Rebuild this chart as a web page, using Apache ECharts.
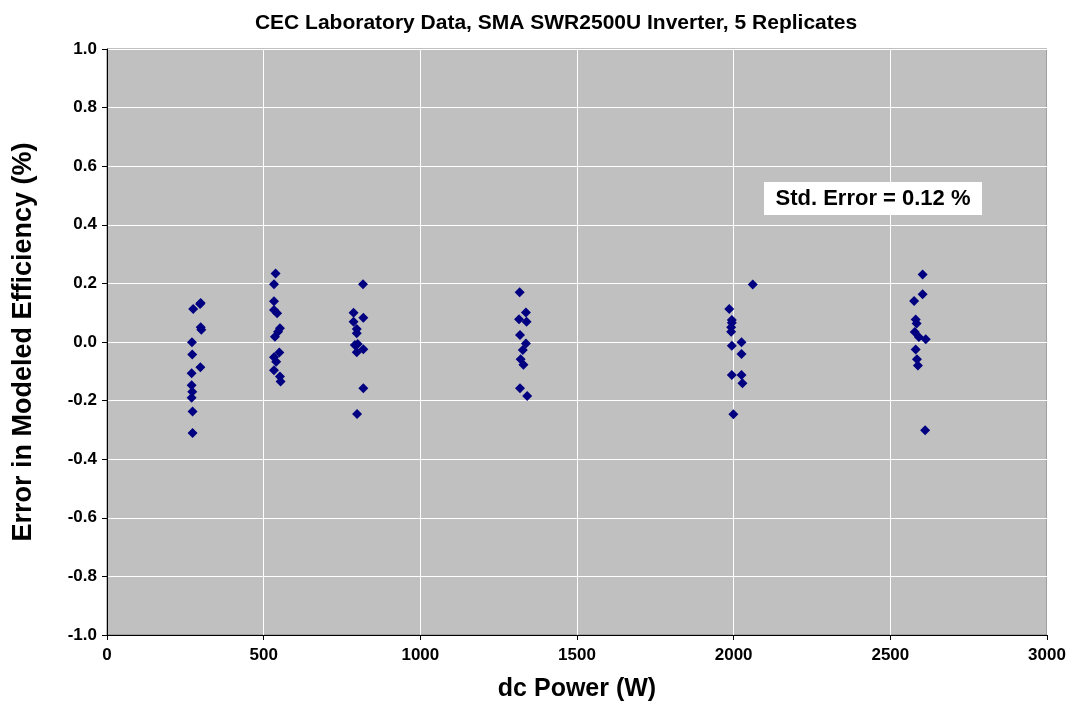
<!DOCTYPE html>
<html>
<head>
<meta charset="utf-8">
<script src="https://cdn.jsdelivr.net/npm/echarts@6/dist/echarts.min.js"></script>
<style>
  html, body { margin: 0; padding: 0; background: #fff; }
  #chart { width: 1078px; height: 728px; }
</style>
</head>
<body>
<div id="chart"></div>
<script>
// dc power (W) and model error (%), cluster by cluster
const powerW = [
  275, 297, 299, 299, 301, 271, 272, 298, 270, 270, 272, 270, 273, 273,
  538, 533, 533, 533, 543, 552, 546, 536, 550, 533, 540, 533, 552, 554,
  817, 787, 818, 787, 797, 797, 791, 800, 818, 797, 818, 798,
  1317, 1337, 1315, 1339, 1318, 1337, 1327, 1320, 1329, 1318, 1341,
  2061, 1986, 1994, 1994, 1992, 1992, 1994, 2025, 2025, 1994, 2025, 2028, 1999,
  2603, 2603, 2576, 2581, 2584, 2578, 2591, 2613, 2581, 2585, 2588, 2611
];
const errorPct = [
  0.113, 0.130, 0.133, 0.050, 0.042, -0.001, -0.043, -0.086, -0.107, -0.148, -0.170, -0.190, -0.237, -0.311,
  0.234, 0.197, 0.139, 0.109, 0.098, 0.047, 0.035, 0.018, -0.036, -0.052, -0.067, -0.096, -0.118, -0.135,
  0.197, 0.100, 0.083, 0.069, 0.044, 0.030, -0.010, -0.007, -0.025, -0.035, -0.158, -0.246,
  0.170, 0.101, 0.078, 0.069, 0.024, -0.005, -0.027, -0.059, -0.078, -0.158, -0.184,
  0.196, 0.113, 0.075, 0.066, 0.050, 0.035, -0.013, -0.001, -0.041, -0.113, -0.113, -0.141, -0.247,
  0.230, 0.163, 0.140, 0.077, 0.063, 0.034, 0.017, 0.009, -0.026, -0.059, -0.080, -0.301
];
const stdErrorLabel = 'Std. Error = 0.12 %';

const points = powerW.map((p, i) => [p, errorPct[i]]);

const chart = echarts.init(document.getElementById('chart'));
const font = 'Arial, "Liberation Sans", sans-serif';

chart.setOption({
  animation: false,
  textStyle: { fontFamily: font },
  title: {
    text: 'CEC Laboratory Data, SMA SWR2500U Inverter, 5 Replicates',
    left: 551,
    textAlign: 'center',
    top: 8,
    textStyle: { fontSize: 21, fontWeight: 'bold', color: '#000', fontFamily: font }
  },
  grid: {
    left: 107, right: 31, top: 49, bottom: 93,
    show: true,
    backgroundColor: '#c0c0c0',
    borderColor: '#808080',
    borderWidth: 1
  },
  xAxis: {
    type: 'value',
    min: 0, max: 3000, interval: 500,
    name: 'dc Power (W)',
    nameLocation: 'middle',
    nameGap: 42,
    nameTextStyle: { fontSize: 25, fontWeight: 'bold', color: '#000' },
    axisLine: { show: true, onZero: false, lineStyle: { color: '#000', width: 1 } },
    axisTick: { show: true, length: 5, lineStyle: { color: '#000' } },
    axisLabel: {
      fontSize: 17, fontWeight: 'bold', color: '#000', margin: 12,
      formatter: v => String(v)
    },
    splitLine: { show: true, lineStyle: { color: '#fff', width: 1 } }
  },
  yAxis: {
    type: 'value',
    min: -1, max: 1, interval: 0.2,
    name: 'Error in Modeled Efficiency (%)',
    nameLocation: 'middle',
    nameGap: 70,
    nameTextStyle: { fontSize: 27, fontWeight: 'bold', color: '#000' },
    axisLine: { show: true, onZero: false, lineStyle: { color: '#000', width: 1 } },
    axisTick: { show: true, length: 5, lineStyle: { color: '#000' } },
    axisLabel: {
      fontSize: 17, fontWeight: 'bold', color: '#000', margin: 10,
      formatter: v => v.toFixed(1)
    },
    splitLine: { show: true, lineStyle: { color: '#fff', width: 1 } }
  },
  graphic: [{
    type: 'group',
    left: 764, top: 182,
    z: 100,
    children: [
      { type: 'rect', z: 100, shape: { x: 0, y: 0, width: 218, height: 33 }, style: { fill: '#fff' } },
      {
        type: 'text', z: 101, x: 109, y: 17,
        style: {
          text: stdErrorLabel, fontSize: 22, fontWeight: 'bold', fill: '#000',
          fontFamily: font, align: 'center', verticalAlign: 'middle'
        }
      }
    ]
  }],
  series: [{
    type: 'scatter',
    data: points,
    symbol: 'diamond',
    symbolSize: 10,
    itemStyle: { color: '#000080', opacity: 1 }
  }]
});
</script>
</body>
</html>
